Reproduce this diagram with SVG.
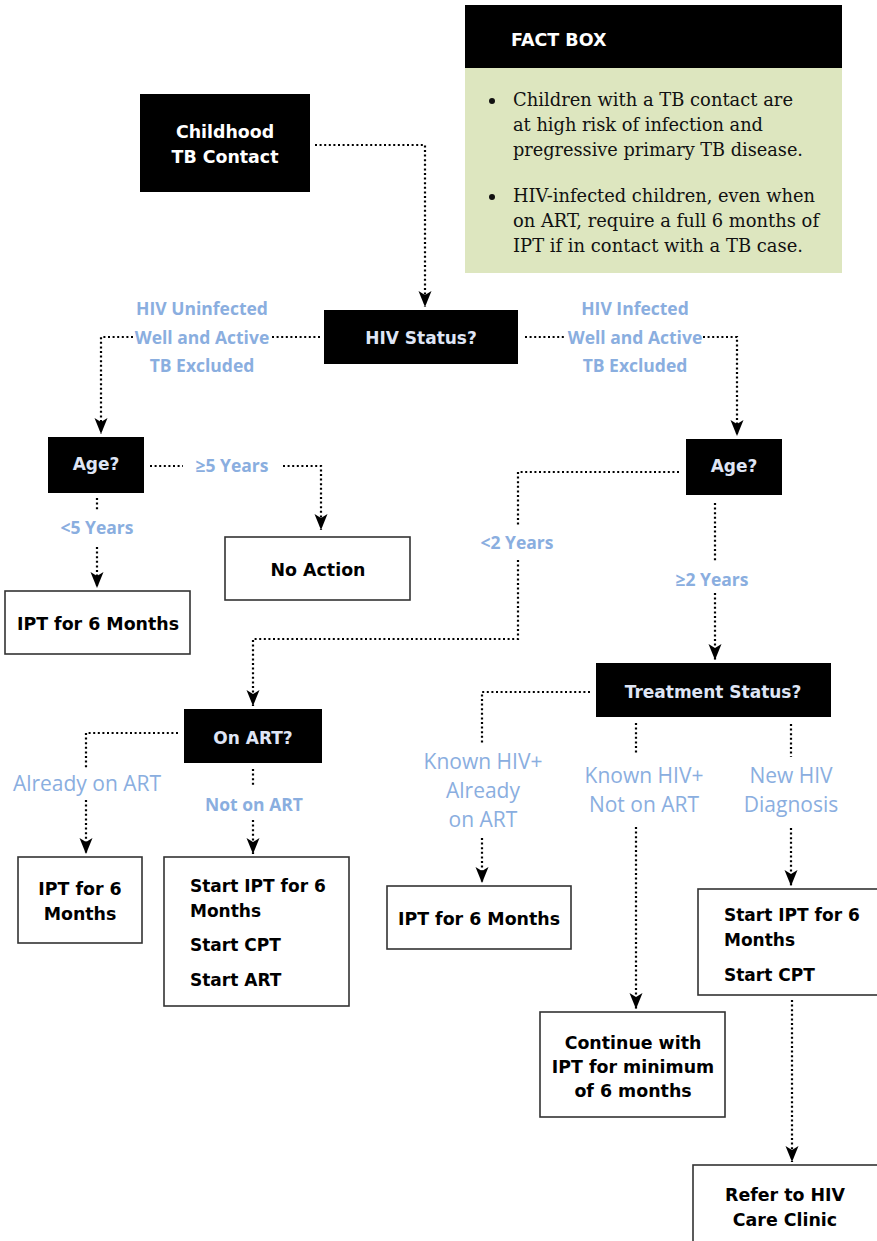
<svg xmlns="http://www.w3.org/2000/svg" width="877" height="1241" viewBox="0 0 877 1241">
<style>
.q{fill:#000}
.box{fill:#fff;stroke:#333;stroke-width:1.6}
.tw{font-family:"DejaVu Sans","Open Sans",sans-serif;font-weight:700;font-size:17.4px;fill:#fff;text-anchor:middle}
.tq{font-family:"DejaVu Sans","Open Sans",sans-serif;font-weight:700;font-size:17px;fill:#dfe5f5;text-anchor:middle}
.tb{font-family:"DejaVu Sans","Open Sans",sans-serif;font-weight:700;font-size:17.4px;fill:#000;text-anchor:middle}
.tl{font-family:"DejaVu Sans","Open Sans",sans-serif;font-weight:700;font-size:17px;fill:#000}
.lb{font-family:"Open Sans","Liberation Sans",sans-serif;font-weight:700;font-size:17.5px;fill:#8aaedf;text-anchor:middle}
.lr{font-family:"Open Sans","Liberation Sans",sans-serif;font-weight:400;font-size:21px;fill:#8aaedf;text-anchor:middle}
.fs{font-family:"DejaVu Serif","Liberation Serif",serif;font-size:18px;fill:#111}
.c{fill:none;stroke:#000;stroke-width:2.2;stroke-dasharray:2 2.6}
.ca{fill:none;stroke:#000;stroke-width:2.2;stroke-dasharray:2 2.6;marker-end:url(#ah)}
</style>
<defs>
<marker id="ah" markerUnits="userSpaceOnUse" markerWidth="17" markerHeight="14" refX="16" refY="6.5" orient="auto" viewBox="0 0 17 14">
<path d="M0,0 L16,6.5 L0,13 L4,6.5 z" fill="#000"/>
</marker>
</defs>

<g id="factbox">
<rect x="465" y="5" width="377" height="63" fill="#000"/>
<rect x="465" y="68" width="377" height="205" fill="#dde6bf"/>
<text x="511" y="46" font-family="DejaVu Sans, Open Sans, sans-serif" font-weight="700" font-size="17.5" fill="#fff">FACT BOX</text>
<circle cx="492" cy="101" r="3" fill="#111"/>
<text class="fs" x="513" y="106" textLength="280" lengthAdjust="spacingAndGlyphs">Children with a TB contact are</text>
<text class="fs" x="513" y="131" textLength="250" lengthAdjust="spacingAndGlyphs">at high risk of infection and</text>
<text class="fs" x="513" y="156" textLength="290" lengthAdjust="spacingAndGlyphs">pregressive primary TB disease.</text>
<circle cx="492" cy="197" r="3" fill="#111"/>
<text class="fs" x="513" y="202" textLength="302" lengthAdjust="spacingAndGlyphs">HIV-infected children, even when</text>
<text class="fs" x="513" y="227" textLength="306" lengthAdjust="spacingAndGlyphs">on ART, require a full 6 months of</text>
<text class="fs" x="513" y="252" textLength="290" lengthAdjust="spacingAndGlyphs">IPT if in contact with a TB case.</text>
</g>

<g id="connectors">
<path class="ca" d="M315,145 H425 V307"/>
<path class="c" d="M320,337 H272"/>
<path class="ca" d="M133,337 H101 V434"/>
<path class="c" d="M525,337 H566"/>
<path class="ca" d="M703,337 H737 V436"/>
<path class="c" d="M150,466 H183"/>
<path class="ca" d="M283,466 H321 V530"/>
<path class="c" d="M97,498 V511"/>
<path class="ca" d="M97,547 V588"/>
<path class="c" d="M679,472 H518 V525"/>
<path class="ca" d="M518,560 V639 H253 V706"/>
<path class="c" d="M715,503 V562"/>
<path class="ca" d="M715,593 V660"/>
<path class="c" d="M590,692 H482 V745"/>
<path class="ca" d="M482,838 V883"/>
<path class="c" d="M636,723 V755"/>
<path class="ca" d="M636,827 V1009"/>
<path class="c" d="M791,724 V757"/>
<path class="ca" d="M791,828 V886"/>
<path class="ca" d="M792,1000 V1162"/>
<path class="c" d="M178,733 H86 V768"/>
<path class="ca" d="M86,800 V854"/>
<path class="c" d="M253,769 V787"/>
<path class="ca" d="M253,820 V854"/>
</g>

<g id="labels">
<text class="lb" x="202" y="315">HIV Uninfected</text>
<text class="lb" x="202" y="344">Well and Active</text>
<text class="lb" x="202" y="372">TB Excluded</text>
<text class="lb" x="635" y="315">HIV Infected</text>
<text class="lb" x="635" y="344">Well and Active</text>
<text class="lb" x="635" y="372">TB Excluded</text>
<text class="lb" x="232" y="472">≥5 Years</text>
<text class="lb" x="97" y="534">&lt;5 Years</text>
<text class="lb" x="517" y="549">&lt;2 Years</text>
<text class="lb" x="712" y="586">≥2 Years</text>
<text class="lr" x="87" y="791">Already on ART</text>
<text class="lb" x="254" y="811">Not on ART</text>
<text class="lr" x="483" y="769">Known HIV+</text>
<text class="lr" x="483" y="798">Already</text>
<text class="lr" x="483" y="827">on ART</text>
<text class="lr" x="644" y="783">Known HIV+</text>
<text class="lr" x="644" y="812">Not on ART</text>
<text class="lr" x="791" y="783">New HIV</text>
<text class="lr" x="791" y="812">Diagnosis</text>
</g>

<g id="n-contact">
<rect class="q" x="140" y="94" width="170" height="98"/>
<text class="tw" x="225" y="138">Childhood</text>
<text class="tw" x="225" y="163">TB Contact</text>
</g>
<g id="n-hivstatus">
<rect class="q" x="324" y="310" width="194" height="54"/>
<text class="tq" x="421" y="344">HIV Status?</text>
</g>
<g id="n-age-left">
<rect class="q" x="48" y="437" width="96" height="56"/>
<text class="tq" x="96" y="470">Age?</text>
</g>
<g id="n-age-right">
<rect class="q" x="686" y="439" width="96" height="56"/>
<text class="tq" x="734" y="472">Age?</text>
</g>
<g id="n-noaction">
<rect class="box" x="225" y="537" width="185" height="63"/>
<text class="tb" x="318" y="576">No Action</text>
</g>
<g id="n-ipt-left">
<rect class="box" x="5" y="591" width="185" height="63"/>
<text class="tb" x="98" y="630">IPT for 6 Months</text>
</g>
<g id="n-onart">
<rect class="q" x="184" y="709" width="138" height="54"/>
<text class="tq" x="253" y="744">On ART?</text>
</g>
<g id="n-treatment">
<rect class="q" x="596" y="663" width="235" height="54"/>
<text class="tq" x="713" y="698">Treatment Status?</text>
</g>
<g id="n-ipt-already">
<rect class="box" x="18" y="857" width="124" height="86"/>
<text class="tb" x="80" y="895">IPT for 6</text>
<text class="tb" x="80" y="920">Months</text>
</g>
<g id="n-start-art">
<rect class="box" x="164" y="857" width="185" height="149"/>
<text class="tl" x="190" y="892">Start IPT for 6</text>
<text class="tl" x="190" y="917">Months</text>
<text class="tl" x="190" y="951">Start CPT</text>
<text class="tl" x="190" y="986">Start ART</text>
</g>
<g id="n-ipt-known">
<rect class="box" x="387" y="886" width="184" height="63"/>
<text class="tb" x="479" y="925">IPT for 6 Months</text>
</g>
<g id="n-continue">
<rect class="box" x="540" y="1012" width="185" height="105"/>
<text class="tb" x="633" y="1049">Continue with</text>
<text class="tb" x="633" y="1073">IPT for minimum</text>
<text class="tb" x="633" y="1097">of 6 months</text>
</g>
<g id="n-start-cpt">
<rect class="box" x="698" y="889" width="185" height="106"/>
<text class="tl" x="724" y="921">Start IPT for 6</text>
<text class="tl" x="724" y="946">Months</text>
<text class="tl" x="724" y="981">Start CPT</text>
</g>
<g id="n-refer">
<rect class="box" x="693" y="1165" width="190" height="85"/>
<text class="tb" x="785" y="1201">Refer to HIV</text>
<text class="tb" x="785" y="1226">Care Clinic</text>
</g>
</svg>
